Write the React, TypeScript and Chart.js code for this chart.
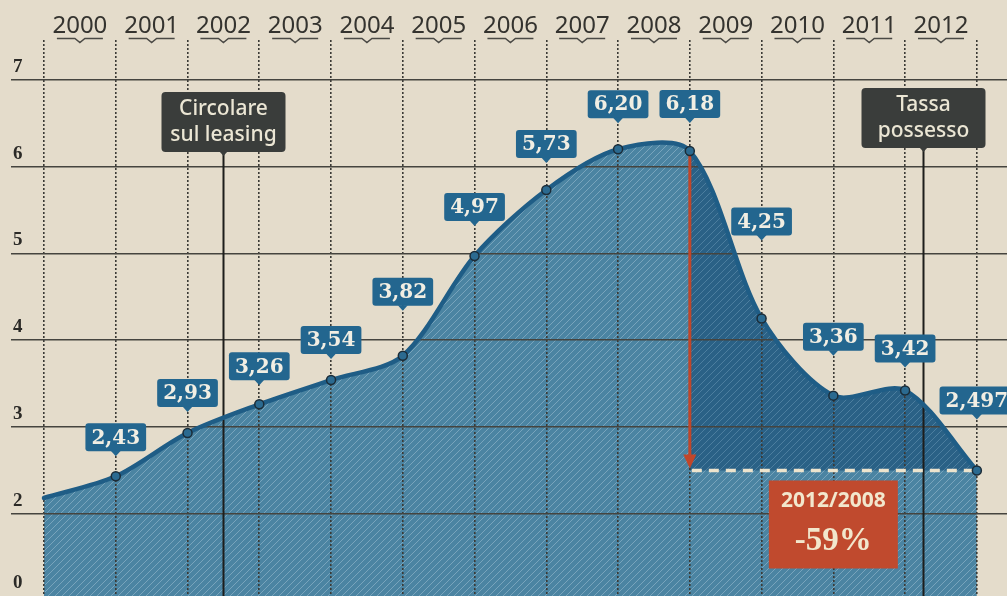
import React, { useEffect, useRef } from 'react';
import { Chart, registerables } from 'chart.js';

Chart.register(...registerables);

// ---------- data ----------
const years = ['2000', '2001', '2002', '2003', '2004', '2005', '2006', '2007', '2008', '2009', '2010', '2011', '2012'];
const values = [2.18, 2.43, 2.93, 3.26, 3.54, 3.82, 4.97, 5.73, 6.2, 6.18, 4.25, 3.36, 3.42, 2.497];
const valueLabels = ['', '2,43', '2,93', '3,26', '3,54', '3,82', '4,97', '5,73', '6,20', '6,18', '4,25', '3,36', '3,42', '2,497'];
const yTickValues = [2, 3, 4, 5, 6, 7];
const yBottomLabel = '0';
const noteTexts = [
  ['Circolare', 'sul leasing'],
  ['Tassa', 'possesso'],
];
const notePositions = [2.5, 12.25];
const compareFromIndex = 9;
const compareToIndex = 13;
const compareTitle = '2012/2008';
const compareChange = '-59%';

// ---------- layout (pixels / axis ranges) ----------
const X_MIN = -0.46;
const X_MAX = 13.42;
const Y_MIN = 1.05;
const Y_MAX = 7.46;
const labelLift = [0, 39, 40, 38, 40, 64, 49, 46, 45, 47, 97, 59, 42, 70];
const noteBoxTop = [92, 88];

const BG = '#e4dccb';

function makePattern(base: string, stripe: string) {
  const s = 7;
  const c = document.createElement('canvas');
  c.width = s;
  c.height = s;
  const g = c.getContext('2d')!;
  g.fillStyle = base;
  g.fillRect(0, 0, s, s);
  g.strokeStyle = stripe;
  g.lineWidth = 1;
  for (const x0 of [-s, 0, s]) {
    g.beginPath();
    g.moveTo(x0, s);
    g.lineTo(x0 + s, 0);
    g.stroke();
  }
  return g.createPattern(c, 'repeat')!;
}

function roundRect(ctx: CanvasRenderingContext2D, x: number, y: number, w: number, h: number, r: number) {
  ctx.beginPath();
  ctx.moveTo(x + r, y);
  ctx.lineTo(x + w - r, y);
  ctx.quadraticCurveTo(x + w, y, x + w, y + r);
  ctx.lineTo(x + w, y + h - r);
  ctx.quadraticCurveTo(x + w, y + h, x + w - r, y + h);
  ctx.lineTo(x + r, y + h);
  ctx.quadraticCurveTo(x, y + h, x, y + h - r);
  ctx.lineTo(x, y + r);
  ctx.quadraticCurveTo(x, y, x + r, y);
  ctx.closePath();
}

const zeroPad = (s: any) => {
  s.paddingTop = 0;
  s.paddingBottom = 0;
  s.paddingLeft = 0;
  s.paddingRight = 0;
};

export default function App() {
  const canvasRef = useRef<HTMLCanvasElement | null>(null);

  useEffect(() => {
    const canvas = canvasRef.current;
    if (!canvas) return;
    const lightPattern = makePattern('#4b84a2', 'rgba(175,205,220,0.45)');
    const darkPattern = makePattern('#2a6186', 'rgba(140,180,205,0.35)');

    const decor = {
      id: 'decor',
      beforeDraw(chart: any) {
        const { ctx, chartArea } = chart;
        const line = chart.getDatasetMeta(0).dataset;
        const xs = chart.scales.x;
        const ys = chart.scales.y;
        if (!line) return;
        line.updateControlPoints && line.updateControlPoints(chartArea, 'x');
        const x0 = xs.getPixelForValue(compareFromIndex);
        const x1 = xs.getPixelForValue(compareToIndex);
        const yBase = ys.getPixelForValue(values[compareToIndex]);
        ctx.save();
        ctx.beginPath();
        ctx.rect(x0, chartArea.top, x1 - x0, yBase - chartArea.top);
        ctx.clip();
        ctx.beginPath();
        line.path(ctx);
        ctx.lineTo(x1, chartArea.bottom);
        ctx.lineTo(xs.getPixelForValue(0), chartArea.bottom);
        ctx.closePath();
        ctx.fillStyle = darkPattern;
        ctx.fill();
        ctx.restore();
      },
      beforeDatasetsDraw(chart: any) {
        const { ctx, chartArea } = chart;
        const xs = chart.scales.x;
        const ys = chart.scales.y;
        const meta = chart.getDatasetMeta(0);
        ctx.save();
        // annotation vertical lines
        ctx.strokeStyle = '#1d1d1b';
        ctx.lineWidth = 2;
        notePositions.forEach((p, i) => {
          const x = Math.round(xs.getPixelForValue(p)) + 0.5;
          ctx.beginPath();
          ctx.moveTo(x, noteBoxTop[i] + 60);
          ctx.lineTo(x, chartArea.bottom);
          ctx.stroke();
        });
        // dashed reference line
        const x0 = xs.getPixelForValue(compareFromIndex);
        const x1 = xs.getPixelForValue(compareToIndex);
        const yBase = ys.getPixelForValue(values[compareToIndex]);
        ctx.strokeStyle = '#ede4cd';
        ctx.lineWidth = 3.5;
        ctx.setLineDash([10, 7]);
        ctx.beginPath();
        ctx.moveTo(x0 + 2, yBase);
        ctx.lineTo(x1, yBase);
        ctx.stroke();
        ctx.setLineDash([]);
        // red arrow
        const pt = meta.data[compareFromIndex];
        ctx.strokeStyle = '#c0462a';
        ctx.fillStyle = '#c0462a';
        ctx.lineWidth = 3;
        ctx.beginPath();
        ctx.moveTo(x0, pt.y);
        ctx.lineTo(x0, yBase - 12);
        ctx.stroke();
        ctx.beginPath();
        ctx.moveTo(x0 - 6.5, yBase - 16);
        ctx.lineTo(x0 + 6.5, yBase - 16);
        ctx.lineTo(x0, yBase - 2);
        ctx.closePath();
        ctx.fill();
        ctx.restore();
      },
      afterDatasetsDraw(chart: any) {
        const { ctx } = chart;
        const xs = chart.scales.x;
        const ys = chart.scales.y;
        const meta = chart.getDatasetMeta(0);
        ctx.save();
        // value labels
        ctx.font = 'bold 20px "DejaVu Serif"';
        ctx.textAlign = 'center';
        ctx.textBaseline = 'middle';
        meta.data.forEach((p: any, i: number) => {
          const txt = valueLabels[i];
          if (!txt) return;
          const w = ctx.measureText(txt).width + 12;
          const h = 28;
          const cy = p.y - labelLift[i];
          const top = cy - h / 2;
          ctx.fillStyle = '#23668f';
          roundRect(ctx, p.x - w / 2, top, w, h, 3);
          ctx.fill();
          ctx.beginPath();
          ctx.moveTo(p.x - 5, top + h - 0.5);
          ctx.lineTo(p.x + 5, top + h - 0.5);
          ctx.lineTo(p.x, top + h + 5);
          ctx.closePath();
          ctx.fill();
          ctx.fillStyle = '#f1eee3';
          ctx.fillText(txt, p.x, cy + 1);
        });
        // annotation boxes
        notePositions.forEach((pos, i) => {
          const cx = Math.round(xs.getPixelForValue(pos)) + 0.5;
          const w = 124;
          const h = 60;
          const top = noteBoxTop[i];
          ctx.fillStyle = '#3a3d3b';
          roundRect(ctx, cx - w / 2, top, w, h, 4);
          ctx.fill();
          ctx.beginPath();
          ctx.moveTo(cx - 4, top + h - 0.5);
          ctx.lineTo(cx + 4, top + h - 0.5);
          ctx.lineTo(cx, top + h + 4);
          ctx.closePath();
          ctx.fill();
          ctx.fillStyle = '#ebe6d4';
          ctx.font = '500 21px "Noto Sans"';
          ctx.textAlign = 'center';
          ctx.textBaseline = 'alphabetic';
          ctx.fillText(noteTexts[i][0], cx, top + 23);
          ctx.fillText(noteTexts[i][1], cx, top + 49);
        });
        // comparison box
        const cx = xs.getPixelForValue((compareFromIndex + compareToIndex) / 2);
        const yBase = ys.getPixelForValue(values[compareToIndex]);
        const bw = 129;
        const bh = 88;
        const bt = yBase + 10;
        ctx.fillStyle = '#c04a2e';
        ctx.fillRect(cx - bw / 2, bt, bw, bh);
        ctx.fillStyle = '#f2e7cd';
        ctx.textAlign = 'center';
        ctx.textBaseline = 'alphabetic';
        ctx.font = 'bold 21px "Noto Sans"';
        ctx.fillText(compareTitle, cx, bt + 27);
        ctx.font = 'bold 33px "Liberation Serif"';
        ctx.fillText(compareChange, cx, bt + 70);
        ctx.restore();
      },
      afterDraw(chart: any) {
        const { ctx } = chart;
        const xt = chart.scales.xTop;
        ctx.save();
        ctx.strokeStyle = '#4a4945';
        ctx.lineWidth = 1.5;
        years.forEach((_, i) => {
          const cx = xt.getPixelForValue(i + 0.5);
          const y = 38.5;
          ctx.beginPath();
          ctx.moveTo(cx - 23, y);
          ctx.lineTo(cx - 5, y);
          ctx.lineTo(cx, y + 4);
          ctx.lineTo(cx + 5, y);
          ctx.lineTo(cx + 23, y);
          ctx.stroke();
        });
        ctx.restore();
      },
    };

    const chart = new Chart(canvas, {
      type: 'line',
      data: {
        datasets: [
          {
            data: values.map((v, i) => ({ x: i, y: v })),
            borderColor: '#1f5d86',
            borderWidth: 4.5,
            backgroundColor: lightPattern as any,
            fill: 'start',
            tension: 0.3,
            borderJoinStyle: 'round',
            borderCapStyle: 'round',
            pointRadius: (c: any) => (c.dataIndex === 0 ? 0 : 4.5),
            pointBackgroundColor: '#2b6a90',
            pointBorderColor: '#1b2c38',
            pointBorderWidth: 1.5,
          } as any,
        ],
      },
      options: {
        animation: false,
        responsive: false,
        devicePixelRatio: 1,
        events: [],
        layout: { autoPadding: false, padding: { left: 11, right: 0, top: 0, bottom: 0 } },
        plugins: {
          legend: { display: false },
          tooltip: { enabled: false },
          filler: { drawTime: 'beforeDraw', propagate: false } as any,
        },
        scales: {
          x: {
            type: 'linear',
            position: 'bottom',
            min: X_MIN,
            max: X_MAX,
            afterBuildTicks: (s: any) => {
              s.ticks = values.map((_, i) => ({ value: i }));
            },
            afterFit: (s: any) => {
              s.height = 0;
              zeroPad(s);
            },
            border: { display: false, dash: [2, 2] },
            grid: { color: '#3b3a36', lineWidth: 1.6, drawTicks: false },
            ticks: { display: false },
          },
          xTop: {
            axis: 'x',
            type: 'linear',
            position: 'top',
            min: X_MIN,
            max: X_MAX,
            afterBuildTicks: (s: any) => {
              s.ticks = years.map((_, i) => ({ value: i + 0.5 }));
            },
            afterFit: (s: any) => {
              s.height = 40;
              zeroPad(s);
            },
            border: { display: false },
            grid: { display: false, drawTicks: false },
            ticks: {
              autoSkip: false,
              maxRotation: 0,
              padding: -1,
              color: '#34332f',
              font: { family: 'Noto Sans', size: 24 },
              callback: (v: any) => years[Math.floor(Number(v))] ?? '',
            },
          } as any,
          y: {
            type: 'linear',
            min: Y_MIN,
            max: Y_MAX,
            afterBuildTicks: (s: any) => {
              s.ticks = [Y_MIN, ...yTickValues].map((v) => ({ value: v }));
            },
            afterFit: (s: any) => {
              s.width = 0;
              zeroPad(s);
            },
            border: { display: false },
            grid: {
              color: (c: any) => (c.tick && c.tick.value < 2 ? 'rgba(0,0,0,0)' : '#45443f'),
              lineWidth: 1.6,
              drawTicks: false,
            },
            ticks: {
              autoSkip: false,
              mirror: true,
              padding: 2,
              labelOffset: -13,
              color: '#2b2a27',
              font: { family: 'Liberation Serif', weight: 'bold', size: 19 },
              callback: (v: any) => (Number(v) < 2 ? yBottomLabel : String(v)),
            },
          },
        },
      },
      plugins: [decor as any],
    });

    return () => {
      chart.destroy();
    };
  }, []);

  return (
    <div style={{ position: 'fixed', left: 0, top: 0, width: 1007, height: 596, background: BG }}>
      <canvas ref={canvasRef} width={1007} height={596} style={{ display: 'block', background: BG }} />
    </div>
  );
}
